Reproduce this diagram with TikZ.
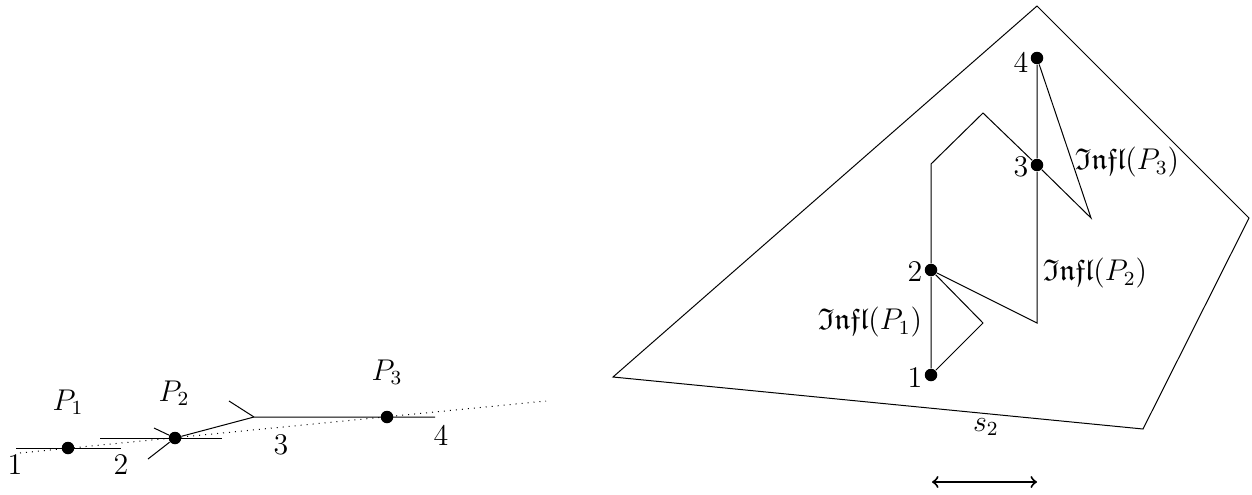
\documentclass[12pt,tikz,border=0pt]{standalone}
\usepackage{amsmath,amssymb}
\usepackage{tikz}
\usetikzlibrary{arrows.meta}

\begin{document}
\begin{tikzpicture}[x=0.4pt,y=-0.4pt,>=to,
    dot/.style={circle,fill,inner sep=0pt,minimum size=5pt}]
  \useasboundingbox (0,0) rectangle (1252,494);
  % 左の図：点 P1, P2, P3
  \node[dot] (p1) at (68,448) {};
  \node[dot] (p2) at (175,438) {};
  \node[dot] (p3) at (387,417) {};
  \node (lp1) at (68,402) {$P_1$};
  \node (lp2) at (174,393) {$P_2$};
  \node (lp3) at (387,372) {$P_3$};
  % 線分
  \coordinate (a1) at (16,448);
  \coordinate (b1) at (121,448);
  \coordinate (a2) at (100,438);
  \coordinate (b2) at (222,438);
  \coordinate (k) at (254,417);
  \coordinate (b3) at (435,417);
  \draw (a1) -- (b1);
  \draw (a2) -- (b2);
  \draw (p2) -- (k) -- (b3);
  \coordinate (t1) at (229,401);
  \coordinate (t2) at (154,428);
  \coordinate (t3) at (148,459);
  \draw (t1) -- (k);
  \draw (t2) -- (p2);
  \draw (t3) -- (p2);
  % 点線
  \coordinate (z0) at (20,453);
  \coordinate (z1) at (546,401);
  \draw[dotted] (z0) -- (z1);
  \node (n1) at (15,465) {1};
  \node (n2) at (121,465) {2};
  \node (n3) at (281,445) {3};
  \node (n4) at (441,435) {4};

  % 右の図：四角形 s2
  \coordinate (qt) at (1037,6);
  \coordinate (qr) at (1249,218);
  \coordinate (qb) at (1143,429);
  \coordinate (ql) at (613,377);
  \draw (qt) -- (qr) -- (qb) -- (ql) -- cycle;
  \node (s2) at (986,427) {$s_2$};
  % 点 1--4
  \node[dot] (d1) at (931,375) {};
  \node[dot] (d2) at (931,270) {};
  \node[dot] (d3) at (1037,165) {};
  \node[dot] (d4) at (1037,58) {};
  \node (m1) at (915,378) {1};
  \node (m2) at (915,272) {2};
  \node (m3) at (1021,167) {3};
  \node (m4) at (1021,62) {4};
  % 折れ線
  \coordinate (q1) at (983,323);
  \coordinate (q2) at (1037,323);
  \coordinate (c1) at (931,164);
  \coordinate (c2) at (983,113);
  \coordinate (c3) at (1091,218);
  \draw (d1) -- (q1) -- (d2);
  \draw (d1) -- (d2) -- (c1) -- (c2) -- (d3) -- (c3) -- (d4);
  \draw (d2) -- (q2) -- (d3) -- (d4);
  \node (i1) at (870,322) {$\mathfrak{Infl}(P_1)$};
  \node (i2) at (1095,273) {$\mathfrak{Infl}(P_2)$};
  \node (i3) at (1127,162) {$\mathfrak{Infl}(P_3)$};
  % 矢印
  \coordinate (w0) at (932,482);
  \coordinate (w1) at (1037,482);
  \draw[<->,thick] (w0) -- (w1);
\end{tikzpicture}
\end{document}
